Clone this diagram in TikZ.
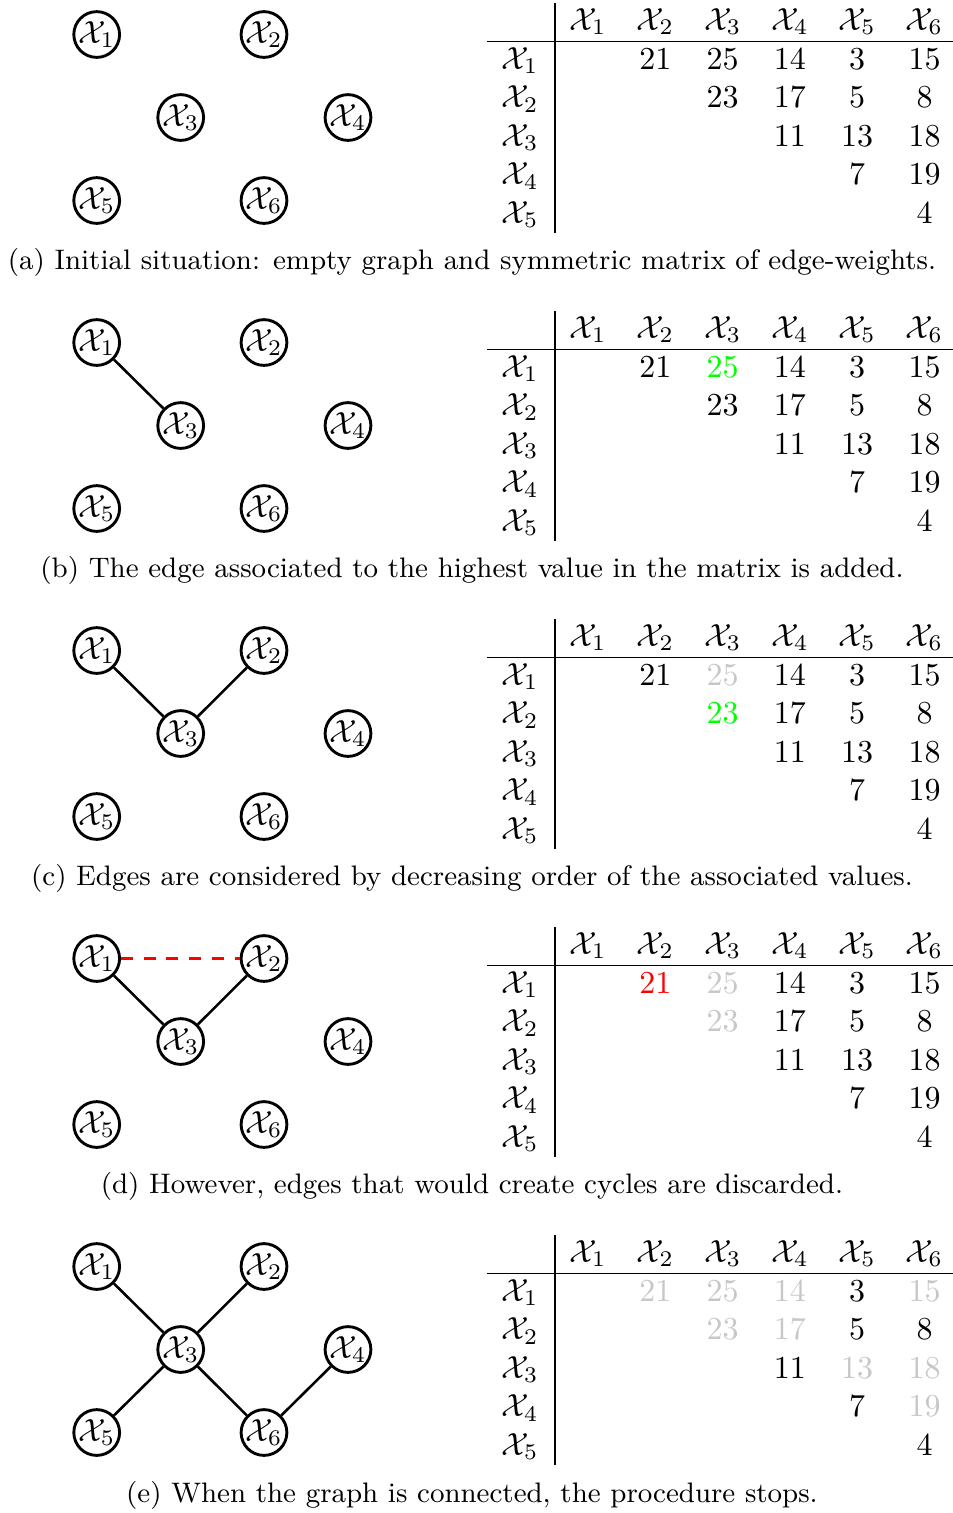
\documentclass[tikz,border=0pt]{standalone}
\usepackage{amsmath}
\definecolor{cK}{rgb}{0,0,0}
\definecolor{cG}{rgb}{0,1,0}
\definecolor{cR}{rgb}{1,0,0}
\definecolor{cY}{gray}{0.78}
\begin{document}
\begin{tikzpicture}[x=0.3125pt,y=-0.3125pt,
  vertex/.style={circle,draw,line width=0.9pt,minimum size=14.1pt,inner sep=0pt},
  edge/.style={line width=0.8pt},
  discard/.style={line width=0.8pt,red,dash pattern=on 3.7pt off 3.4pt},
  cell/.style={anchor=base,inner sep=0pt},
  rule/.style={line width=0.5pt},
  captext/.style={anchor=base,inner sep=0pt,font=\small,scale=0.979}]
\useasboundingbox (0,0) rectangle (953,1513);
% vertices, headers, rules for each panel
\foreach \p/\o in {a/0,b/308,c/616,d/924,e/1232}{
  \node[vertex] (\p1) at (96.7,34.5+\o) {$\mathcal{X}_1$};
  \node[vertex] (\p2) at (264,34.5+\o) {$\mathcal{X}_2$};
  \node[vertex] (\p3) at (180.7,117.5+\o) {$\mathcal{X}_3$};
  \node[vertex] (\p4) at (348,117.5+\o) {$\mathcal{X}_4$};
  \node[vertex] (\p5) at (96.7,200.5+\o) {$\mathcal{X}_5$};
  \node[vertex] (\p6) at (264,200.5+\o) {$\mathcal{X}_6$};
  \foreach \c in {1,...,6}{
    \node[cell] (\p-h\c) at ({588+(\c-1)*67.3},30+\o) {$\mathcal{X}_{\c}$};
  }
  \foreach \r in {1,...,5}{
    \node[cell] (\p-r\r) at (520,{69+(\r-1)*38.5+\o}) {$\mathcal{X}_{\r}$};
  }
  \draw[rule] (555,3+\o) -- (555,233+\o);
  \draw[rule] (487,41.6+\o) -- (953,41.6+\o);
}
% matrix values with colours per panel (a,b,c,d,e)
\foreach \r/\c/\v/\ka/\kb/\kc/\kd/\ke in {
  1/2/21/K/K/K/R/Y, 1/3/25/K/G/Y/Y/Y, 1/4/14/K/K/K/K/Y, 1/5/3/K/K/K/K/K, 1/6/15/K/K/K/K/Y,
  2/3/23/K/K/G/Y/Y, 2/4/17/K/K/K/K/Y, 2/5/5/K/K/K/K/K, 2/6/8/K/K/K/K/K,
  3/4/11/K/K/K/K/K, 3/5/13/K/K/K/K/Y, 3/6/18/K/K/K/K/Y,
  4/5/7/K/K/K/K/K, 4/6/19/K/K/K/K/Y,
  5/6/4/K/K/K/K/K}{
  \node[cell,text=c\ka] (a-\r-\c) at ({588+(\c-1)*67.3},{69+(\r-1)*38.5}) {\v};
  \node[cell,text=c\kb] (b-\r-\c) at ({588+(\c-1)*67.3},{69+(\r-1)*38.5+308}) {\v};
  \node[cell,text=c\kc] (c-\r-\c) at ({588+(\c-1)*67.3},{69+(\r-1)*38.5+616}) {\v};
  \node[cell,text=c\kd] (d-\r-\c) at ({588+(\c-1)*67.3},{69+(\r-1)*38.5+924}) {\v};
  \node[cell,text=c\ke] (e-\r-\c) at ({588+(\c-1)*67.3},{69+(\r-1)*38.5+1232}) {\v};
}
% edges
\draw[edge] (b1) -- (b3);
\draw[edge] (c1) -- (c3);
\draw[edge] (c2) -- (c3);
\draw[edge] (d1) -- (d3);
\draw[edge] (d2) -- (d3);
\draw[discard] (d1) -- (d2);
\draw[edge] (e1) -- (e3);
\draw[edge] (e2) -- (e3);
\draw[edge] (e3) -- (e5);
\draw[edge] (e3) -- (e6);
\draw[edge] (e6) -- (e4);
% captions
\node[captext] (capa) at (472,269) {(a) Initial situation: empty graph and symmetric matrix of edge-weights.};
\node[captext] (capb) at (472,577) {(b) The edge associated to the highest value in the matrix is added.};
\node[captext] (capc) at (472,885) {(c) Edges are considered by decreasing order of the associated values.};
\node[captext] (capd) at (472,1193) {(d) However, edges that would create cycles are discarded.};
\node[captext] (cape) at (472,1502) {(e) When the graph is connected, the procedure stops.};
\end{tikzpicture}
\end{document}
